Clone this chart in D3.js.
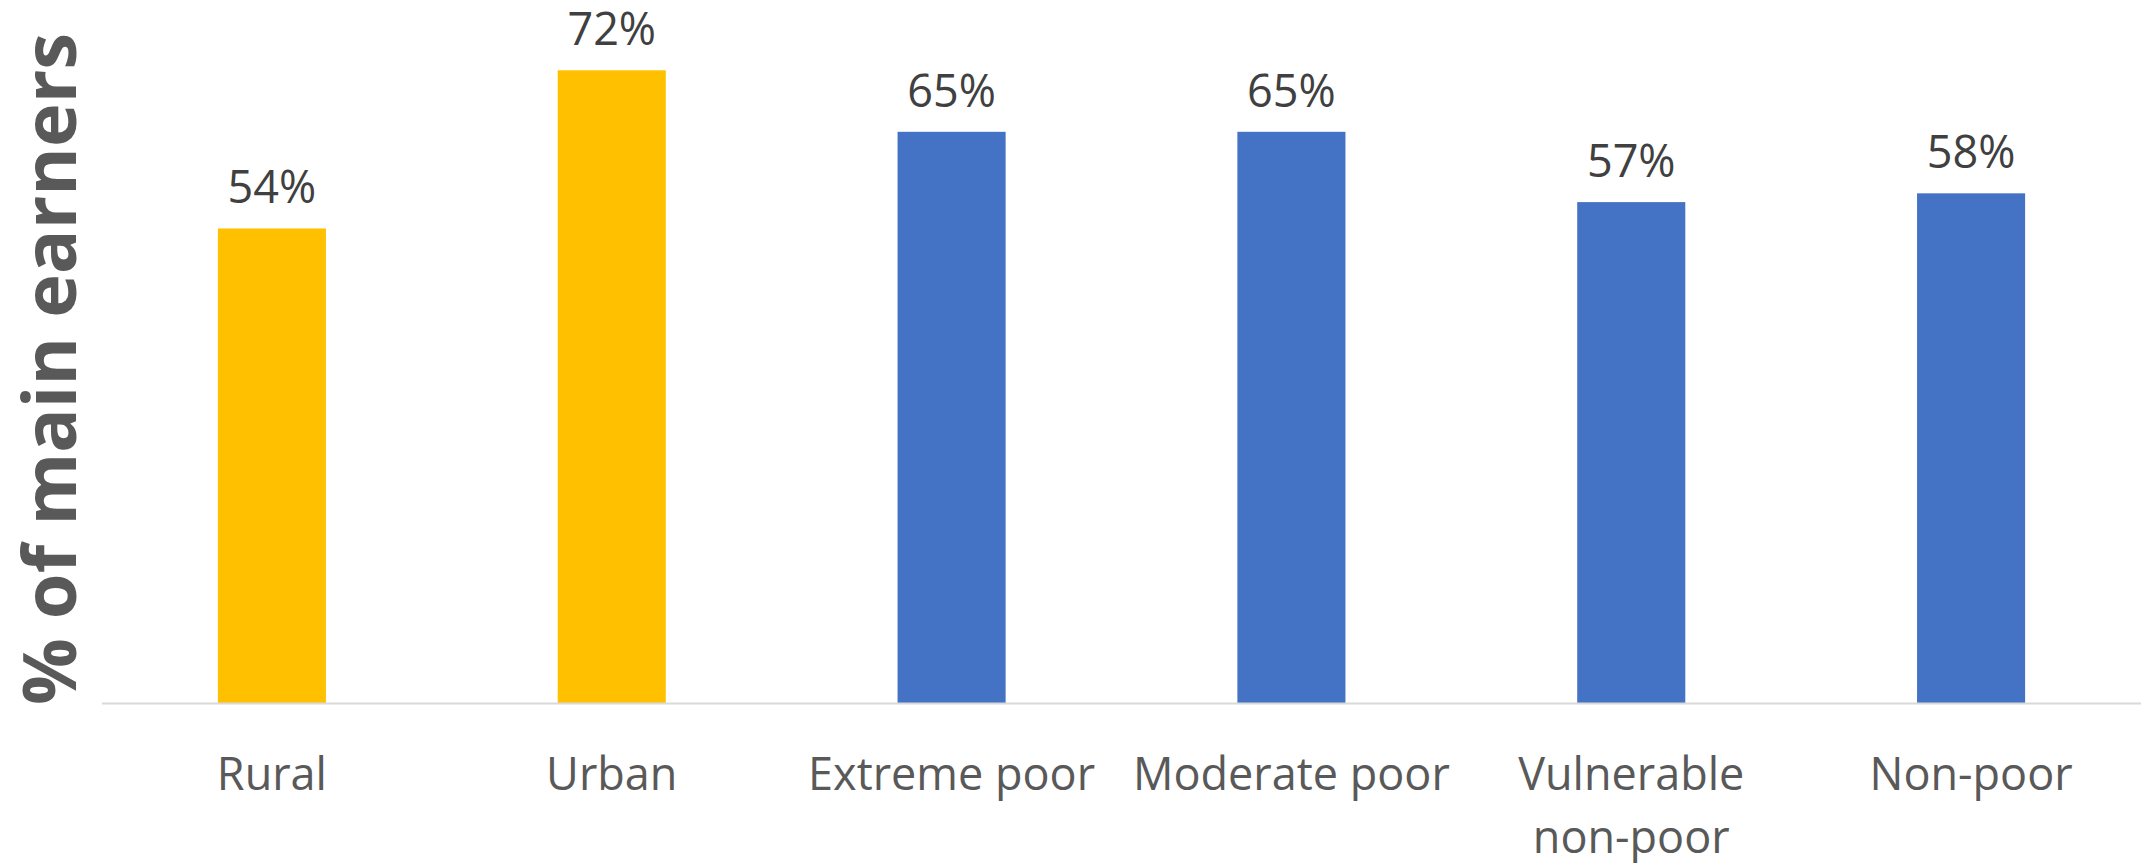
<!DOCTYPE html>
<html lang="en">
<head>
<meta charset="UTF-8">
<title>% of main earners</title>
<script src="https://cdn.jsdelivr.net/npm/d3@7"></script>
<style>
  body { margin: 0; background: #fff; }
  text { font-family: "Open Sans", "Noto Sans", sans-serif; }
</style>
</head>
<body>
<div id="chart"></div>
<script>
// data
var categories = ["Rural", "Urban", "Extreme poor", "Moderate poor", "Vulnerable\nnon-poor", "Non-poor"];
var values = [0.54, 0.72, 0.65, 0.65, 0.57, 0.58];
var groups = ["area", "area", "poverty", "poverty", "poverty", "poverty"];

var width = 2141, height = 863;
var margin = {top: 0, right: 0, bottom: 160, left: 102};

var svg = d3.select("#chart").append("svg")
    .attr("width", width)
    .attr("height", height);

var g = svg.append("g")
    .attr("transform", "translate(" + margin.left + "," + margin.top + ")");

var innerW = width - margin.left - margin.right;
var innerH = height - margin.top - margin.bottom; // 703

var x = d3.scaleBand()
    .domain(categories)
    .range([0, innerW])
    .paddingInner(0.682)
    .paddingOuter(0.341);

var y = d3.scaleLinear()
    .domain([0, 0.8])
    .range([innerH, 0]);

var color = d3.scaleOrdinal()
    .domain(["area", "poverty"])
    .range(["#FFC000", "#4472C4"]);

var rows = categories.map(function(c, i) {
    return {cat: c, value: values[i], group: groups[i]};
});

// bars
g.append("g").selectAll("rect")
    .data(rows)
    .enter()
    .append("rect")
    .attr("x", function(d) { return x(d.cat); })
    .attr("y", function(d) { return y(d.value); })
    .attr("width", x.bandwidth())
    .attr("height", function(d) { return innerH - y(d.value); })
    .attr("fill", function(d) { return color(d.group); });

// axis line
g.append("line")
    .attr("x1", 0).attr("x2", innerW)
    .attr("y1", innerH + 0.5).attr("y2", innerH + 0.5)
    .attr("stroke", "#d9d9d9")
    .attr("stroke-width", 2);

// value labels
g.append("g").selectAll("text")
    .data(rows)
    .enter()
    .append("text")
    .attr("x", function(d) { return x(d.cat) + x.bandwidth() / 2; })
    .attr("y", function(d) { return y(d.value) - 25; })
    .attr("text-anchor", "middle")
    .attr("fill", "#404040")
    .style("font-size", "45px")
    .text(function(d) { return d3.format(".0%")(d.value); });

// category labels
var catLabels = g.append("g").selectAll("text")
    .data(rows)
    .enter()
    .append("text")
    .attr("text-anchor", "middle")
    .attr("fill", "#595959")
    .style("font-size", "45px")
    .attr("transform", function(d) {
        return "translate(" + (x(d.cat) + x.bandwidth() / 2) + "," + (innerH + 87) + ")";
    });

catLabels.selectAll("tspan")
    .data(function(d) { return d.cat.split("\n"); })
    .enter()
    .append("tspan")
    .attr("x", 0)
    .attr("dy", function(d, i) { return i === 0 ? 0 : 63; })
    .text(function(d) { return d; });

// y axis title
svg.append("text")
    .attr("transform", "translate(76," + 369 + ") rotate(-90)")
    .attr("text-anchor", "middle")
    .attr("fill", "#595959")
    .style("font-size", "74px")
    .style("font-weight", "bold")
    .text("% of main earners");
</script>
</body>
</html>
